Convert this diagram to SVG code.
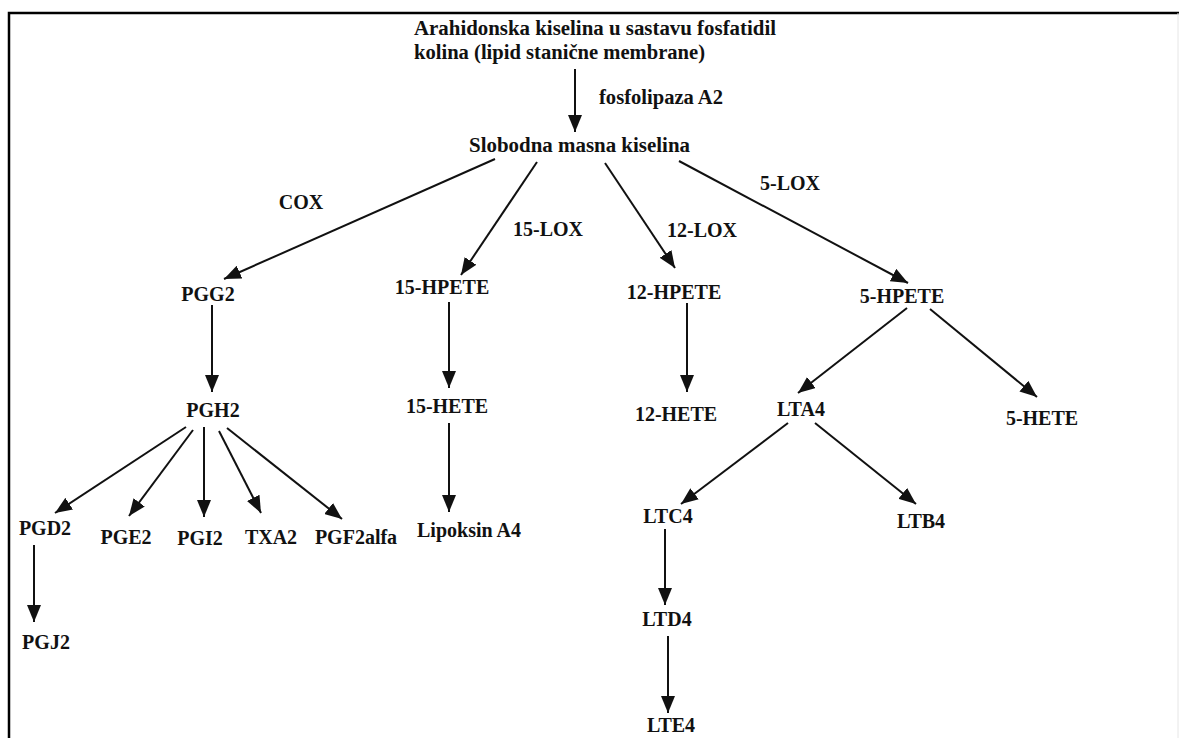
<svg xmlns="http://www.w3.org/2000/svg" width="1179" height="738" viewBox="0 0 1179 738">
<style>
text{font-family:"Liberation Serif","Times New Roman",serif;font-weight:bold;font-size:20px;fill:#111;text-anchor:middle}
.l{text-anchor:start}
.c line{stroke:#111;stroke-width:2;marker-end:url(#ah)}
</style>
<defs>
<marker id="ah" markerUnits="userSpaceOnUse" markerWidth="18" markerHeight="14" refX="17" refY="7" orient="auto">
<path d="M0,0 L17,7 L0,14 z" fill="#111"/>
</marker>
</defs>
<rect width="1179" height="738" fill="#fff"/>
<path d="M9,738 V13 H1179" fill="none" stroke="#000" stroke-width="2.5"/>
<line x1="1178" y1="13" x2="1178" y2="738" stroke="#e6e6e6" stroke-width="1"/>
<g class="c" id="connectors">
<line x1="575" y1="69" x2="575" y2="132"/>
<line x1="495" y1="159" x2="224" y2="279"/>
<line x1="537" y1="162" x2="461" y2="275"/>
<line x1="605" y1="163" x2="675" y2="268"/>
<line x1="679" y1="161" x2="908" y2="283"/>
<line x1="212" y1="305" x2="212" y2="392"/>
<line x1="449" y1="302" x2="449" y2="388"/>
<line x1="687" y1="303" x2="687" y2="392"/>
<line x1="907" y1="308" x2="798" y2="393"/>
<line x1="930" y1="309" x2="1037" y2="397"/>
<line x1="186" y1="427" x2="55" y2="513"/>
<line x1="193" y1="430" x2="129" y2="516"/>
<line x1="204" y1="427" x2="204" y2="517"/>
<line x1="219" y1="431" x2="261" y2="513"/>
<line x1="227" y1="428" x2="342" y2="519"/>
<line x1="449" y1="423" x2="449" y2="512"/>
<line x1="788" y1="423" x2="681" y2="504"/>
<line x1="815" y1="423" x2="916" y2="504"/>
<line x1="34" y1="545" x2="34" y2="622"/>
<line x1="665" y1="529" x2="665" y2="605"/>
<line x1="668" y1="636" x2="668" y2="713"/>
</g>
<g id="n-arahidonska"><text class="l" x="414" y="35" textLength="362" lengthAdjust="spacingAndGlyphs">Arahidonska kiselina u sastavu fosfatidil</text><text class="l" x="414" y="59" textLength="291" lengthAdjust="spacingAndGlyphs">kolina (lipid stanične membrane)</text></g>
<g id="lbl-fosfolipaza"><text class="l" x="599" y="104" textLength="124" lengthAdjust="spacingAndGlyphs">fosfolipaza A2</text></g>
<g id="n-slobodna"><text class="l" x="469" y="152" textLength="221" lengthAdjust="spacingAndGlyphs">Slobodna masna kiselina</text></g>
<g id="lbl-cox"><text x="301" y="209">COX</text></g>
<g id="lbl-15lox"><text x="548" y="236">15-LOX</text></g>
<g id="lbl-12lox"><text x="702" y="237">12-LOX</text></g>
<g id="lbl-5lox"><text x="790" y="190">5-LOX</text></g>
<g id="n-pgg2"><text x="208" y="301">PGG2</text></g>
<g id="n-15hpete"><text x="442" y="294">15-HPETE</text></g>
<g id="n-12hpete"><text x="674" y="299">12-HPETE</text></g>
<g id="n-5hpete"><text x="902" y="303">5-HPETE</text></g>
<g id="n-pgh2"><text x="213" y="417">PGH2</text></g>
<g id="n-15hete"><text x="447" y="413">15-HETE</text></g>
<g id="n-12hete"><text x="676" y="421">12-HETE</text></g>
<g id="n-lta4"><text x="801" y="416">LTA4</text></g>
<g id="n-5hete"><text x="1042" y="425">5-HETE</text></g>
<g id="n-pgd2"><text x="45" y="535">PGD2</text></g>
<g id="n-pge2"><text x="126" y="544">PGE2</text></g>
<g id="n-pgi2"><text x="200" y="545">PGI2</text></g>
<g id="n-txa2"><text x="271" y="544">TXA2</text></g>
<g id="n-pgf2alfa"><text x="356" y="544">PGF2alfa</text></g>
<g id="n-lipoksin"><text x="469" y="537">Lipoksin A4</text></g>
<g id="n-ltc4"><text x="668" y="523">LTC4</text></g>
<g id="n-ltb4"><text x="921" y="528">LTB4</text></g>
<g id="n-pgj2"><text x="46" y="649">PGJ2</text></g>
<g id="n-ltd4"><text x="667" y="626">LTD4</text></g>
<g id="n-lte4"><text x="671" y="732">LTE4</text></g>
</svg>
